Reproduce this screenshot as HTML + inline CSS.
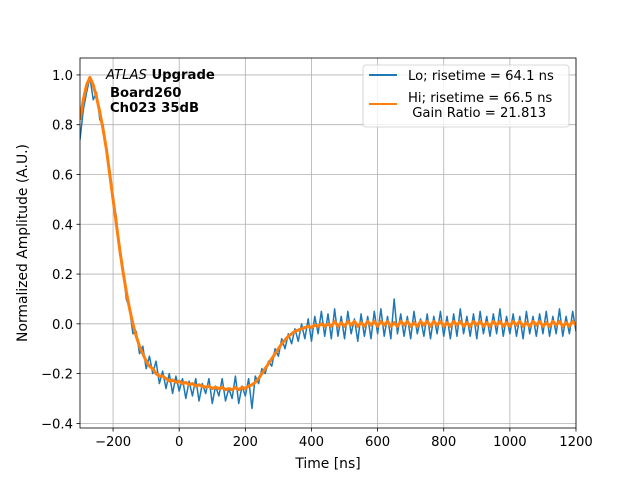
<!DOCTYPE html>
<html><head><meta charset="utf-8"><style>
html,body{margin:0;padding:0;background:#fff}
svg{display:block;font-family:"DejaVu Sans","Liberation Sans",sans-serif}
</style></head><body>
<svg id="chart" width="640" height="480" viewBox="0 0 640 480">
<defs><clipPath id="clip"><rect x="80" y="58" width="496" height="370"/></clipPath></defs>
<g id="grid"></g>
<g id="series" clip-path="url(#clip)"></g>
<rect x="80" y="58" width="496" height="370" fill="none" stroke="#000" stroke-width="0.8"/>
<g id="ticks"></g>
<text x="328" y="468" font-size="13.9" text-anchor="middle">Time [ns]</text>
<text transform="translate(27,243) rotate(-90)" font-size="13.9" text-anchor="middle">Normalized Amplitude (A.U.)</text>
<g font-size="13.2" font-weight="bold">
<text x="106" y="79"><tspan font-style="italic" font-weight="normal">ATLAS</tspan> Upgrade</text>
<text x="110" y="97">Board260</text>
<text x="110" y="112">Ch023 35dB</text>
</g>
<g>
<rect x="363" y="65" width="206" height="62" rx="3" fill="#fff" fill-opacity="0.8" stroke="#ccc" stroke-width="0.8"/>
<g>
<line x1="369" y1="75" x2="397" y2="75" stroke="#1f77b4" stroke-width="2"/>
<text x="408" y="80" font-size="13.2">Lo; risetime = 64.1 ns</text></g>
<g>
<line x1="369" y1="104" x2="397" y2="104" stroke="#ff7f0e" stroke-width="2"/>
<text x="408" y="102" font-size="13.2">Hi; risetime = 66.5 ns</text>
<text x="408" y="117" font-size="13.2" xml:space="preserve"> Gain Ratio = 21.813</text></g>
</g>
</svg>
<script>
const tStart = -300, tStep = 10;
const loValues = [0.74,0.86,0.93,0.99,0.90,0.93,0.82,0.80,0.69,0.62,0.50,0.43,0.28,0.22,0.10,0.06,-0.04,-0.03,-0.12,-0.09,-0.18,-0.13,-0.20,-0.15,-0.24,-0.19,-0.26,-0.20,-0.28,-0.21,
-0.27,-0.22,-0.30,-0.23,-0.29,-0.22,-0.31,-0.24,-0.28,-0.22,-0.32,-0.25,-0.29,-0.22,-0.31,-0.26,-0.30,-0.21,-0.32,-0.25,-0.29,-0.22,-0.34,-0.21,-0.24,-0.18,-0.20,-0.15,-0.17,-0.10,
-0.13,-0.06,-0.10,-0.04,-0.08,-0.02,-0.07,0.0,-0.06,0.02,-0.07,0.03,-0.04,0.05,-0.05,0.04,-0.06,0.06,-0.05,0.03,-0.06,0.05,-0.04,0.02,-0.07,0.04,-0.05,0.03,-0.06,0.05,
-0.04,0.06,-0.05,0.03,-0.06,0.10,-0.04,0.04,-0.05,0.03,-0.06,0.05,-0.04,0.02,-0.05,0.04,-0.06,0.03,-0.04,0.05,-0.05,0.03,-0.06,0.04,-0.05,0.06,-0.04,0.03,-0.05,0.04,
-0.06,0.05,-0.04,0.03,-0.05,0.04,-0.04,0.06,-0.05,0.03,-0.04,0.04,-0.05,0.03,-0.06,0.05,-0.04,0.03,-0.05,0.04,-0.04,0.05,-0.05,0.03,-0.04,0.06,-0.05,0.03,-0.04,0.05,-0.03];
const hiValues = [0.82,0.90,0.96,0.99,0.96,0.91,0.85,0.78,0.70,0.60,0.50,0.40,0.30,0.21,0.13,0.06,0.0,-0.05,-0.09,-0.12,-0.15,-0.17,-0.18,-0.20,-0.21,-0.21,-0.22,-0.23,-0.225,-0.235,
-0.23,-0.24,-0.235,-0.245,-0.24,-0.25,-0.245,-0.25,-0.255,-0.25,-0.26,-0.255,-0.26,-0.255,-0.265,-0.26,-0.265,-0.255,-0.265,-0.255,-0.26,-0.25,-0.245,-0.235,-0.22,-0.20,-0.18,-0.16,-0.14,-0.12,
-0.10,-0.08,-0.065,-0.05,-0.04,-0.03,-0.025,-0.02,-0.015,-0.01,-0.015,-0.005,-0.01,0.0,-0.01,0.0,-0.01,0.01,-0.01,0.005,-0.01,0.01,-0.005,0.01,-0.01,0.005,-0.01,0.01,-0.005,0.01,
-0.01,0.01,-0.005,0.01,-0.01,0.005,-0.01,0.01,-0.005,0.01,-0.01,0.005,-0.01,0.01,-0.005,0.01,-0.01,0.01,-0.005,0.01,-0.01,0.005,-0.01,0.01,-0.005,0.01,-0.01,0.005,-0.01,0.01,
-0.005,0.01,-0.01,0.005,-0.01,0.01,-0.005,0.01,-0.01,0.005,-0.01,0.01,-0.005,0.01,-0.01,0.005,-0.01,0.01,-0.005,0.01,-0.01,0.005,-0.01,0.01,-0.005,0.01,-0.01,0.005,-0.01,0.01,-0.005];
const xTicks = [-200,0,200,400,600,800,1000,1200];
const yTicks = [-0.4,-0.2,0.0,0.2,0.4,0.6,0.8,1.0];
const yTickLabels = ["−0.4","−0.2","0.0","0.2","0.4","0.6","0.8","1.0"];

const X0=80,X1=576,Y0=58,Y1=428, xmin=-300,xmax=1200,ymin=-0.4185,ymax=1.068;
const sx=v=>X0+(v-xmin)/(xmax-xmin)*(X1-X0);
const sy=v=>Y1-(v-ymin)/(ymax-ymin)*(Y1-Y0);
const NS="http://www.w3.org/2000/svg";
const grid=document.getElementById('grid'), ticks=document.getElementById('ticks'), series=document.getElementById('series');
function mk(tag,attrs,parent){const e=document.createElementNS(NS,tag);for(const k in attrs)e.setAttribute(k,attrs[k]);parent.appendChild(e);return e;}
xTicks.forEach(v=>{const x=sx(v);
 const g=mk('line',{x1:x,x2:x,y1:Y0,y2:Y1,stroke:'#b0b0b0','stroke-width':0.8},grid);
 
 
 const t=mk('line',{x1:x,x2:x,y1:Y1,y2:Y1+3.5,stroke:'#000','stroke-width':0.8},ticks);
 
 
 const l=mk('text',{x:x,y:Y1+18,'font-size':13.2,'text-anchor':'middle'},ticks);
 l.textContent=v<0?'−'+(-v):String(v);
 
 
});
yTicks.forEach((v,i)=>{const y=sy(v);
 const g=mk('line',{x1:X0,x2:X1,y1:y,y2:y,stroke:'#b0b0b0','stroke-width':0.8},grid);
 
 
 const t=mk('line',{x1:X0-3.5,x2:X0,y1:y,y2:y,stroke:'#000','stroke-width':0.8},ticks);
 
 
 const l=mk('text',{x:X0-7,y:y+5,'font-size':13.2,'text-anchor':'end'},ticks);
 l.textContent=yTickLabels[i];
 
 
});
function path(vals,color,w,name){
 const d=vals.map((v,i)=>(i?'L':'M')+sx(tStart+i*tStep).toFixed(2)+' '+sy(v).toFixed(2)).join('');
 const p=mk('path',{d:d,fill:'none',stroke:color,'stroke-width':w,'stroke-linejoin':'round'},series);
 
 
}
path(loValues,'#1f77b4',1.5,'lo-series-line');
path(hiValues,'#ff7f0e',3,'hi-series-line');
</script>
</body></html>
